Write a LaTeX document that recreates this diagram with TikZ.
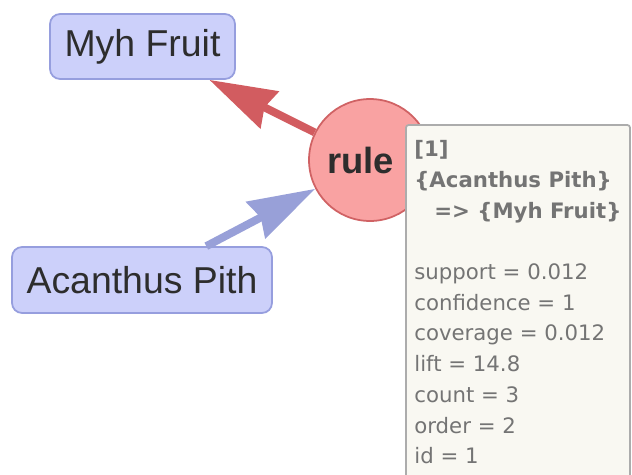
\documentclass[tikz,border=0pt]{standalone}
\usepackage{fontspec}
\setmainfont{Liberation Sans}
\newfontfamily\tipfont{DejaVu Sans}
\usetikzlibrary{arrows.meta,shapes.geometric}
\definecolor{boxfill}{RGB}{204,208,250}
\definecolor{boxdraw}{RGB}{150,158,222}
\definecolor{rulefill}{RGB}{249,162,162}
\definecolor{ruledraw}{RGB}{208,98,100}
\definecolor{redarrow}{RGB}{210,92,96}
\definecolor{bluearrow}{RGB}{152,160,216}
\definecolor{tipfill}{RGB}{249,248,242}
\definecolor{tipdraw}{RGB}{172,172,172}
\definecolor{tiptext}{RGB}{116,116,116}
\definecolor{darktext}{RGB}{45,45,45}
\tikzset{
  itembox/.style={draw=boxdraw, fill=boxfill, line width=1pt, rounded corners=5.7pt,
    text=darktext, font=\fontsize{21.3pt}{24pt}\selectfont, inner sep=0pt},
  rulecircle/.style={circle, draw=ruledraw, fill=rulefill, line width=1pt,
    minimum size=2.44cm, inner sep=0pt, text=darktext,
    font=\bfseries\fontsize{20.7pt}{24pt}\selectfont},
  edgearrow/.style={line width=4.5pt, -{Stealth[length=38pt, width=23pt, inset=3pt]}},
  tipbox/.style={draw=tipdraw, fill=tipfill, line width=1pt, rounded corners=1.5pt},
  tiptextstyle/.style={anchor=north west, align=left, inner sep=0pt, text=tiptext,
    font=\tipfont\fontsize{12.1pt}{17.5pt}\selectfont}
}
\begin{document}
\begin{tikzpicture}[x=0.02cm, y=-0.02cm]
\useasboundingbox (0,0) rectangle (632,474);
\node[itembox, minimum width=3.7cm, minimum height=1.3cm] (myh) at (142.5,46.5) {Myh Fruit};
\node[itembox, minimum width=5.2cm, minimum height=1.32cm] (acp) at (142,280) {Acanthus Pith};
\node[rulecircle] (rule) at (370,160) {\hspace*{-0.38cm}rule};
\draw[edgearrow, draw=redarrow, fill=redarrow] (rule) -- (myh);
\draw[edgearrow, draw=bluearrow, fill=bluearrow] (acp) -- (rule);
\draw[tipbox] (406,125) -- (630,125) -- (630,480) -- (406,480) -- cycle;
\node[tiptextstyle] (tip) at (414,140) {\textbf{[1]}\\
\textbf{\{Acanthus Pith\}}\\
\hspace*{0.4cm}\textbf{=> \{Myh Fruit\}}\\[17.5pt]
support = 0.012\\
confidence = 1\\
coverage = 0.012\\
lift = 14.8\\
count = 3\\
order = 2\\
id = 1};
\end{tikzpicture}
\end{document}
